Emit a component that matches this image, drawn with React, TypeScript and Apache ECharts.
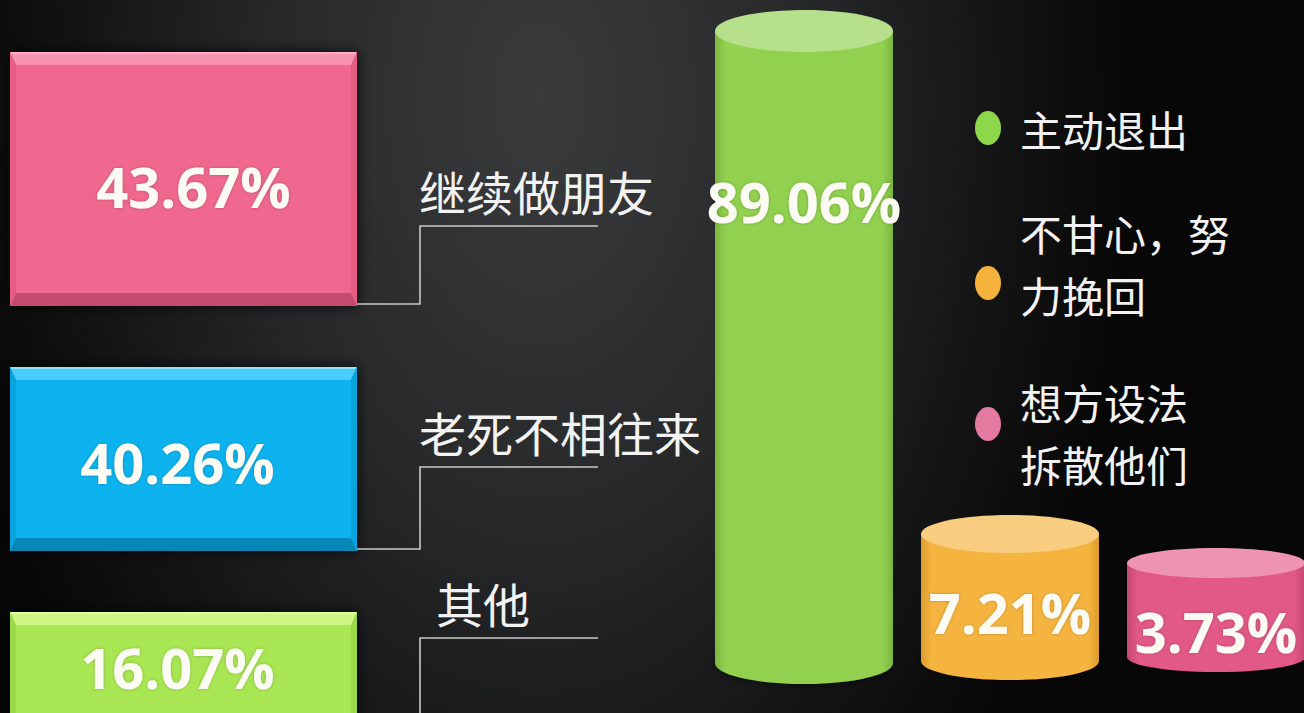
import React, { useEffect, useRef } from 'react';
import * as echarts from 'echarts';

// ---- data ----
const leftCategories = ['继续做朋友', '老死不相往来', '其他'];
const leftValues = [43.67, 40.26, 16.07];
const rightCategories = ['主动退出', '不甘心，努力挽回', '想方设法拆散他们'];
const rightValues = [89.06, 7.21, 3.73];

// ---- layout (hidden vertical axis runs 0..713, top to bottom) ----
const BOX_TOP = [52, 367, 612];
const BOX_BOTTOM = [306, 551, 800];
const BOX_VALUE_Y = [186, 462, 667];
const BOX_VALUE_DX = [10, -6, -6];
const BOX_LINE_Y = [226, 467, 638];
const BOX_LABEL_DX = [0, 0, 17];
const BOX_COLORS = [
  { face: '#f0688f', top: '#f893b1', bottom: '#c44a6e', side: '#e55c84', edge: '#fbb0c6' },
  { face: '#0bb3ef', top: '#48ccf8', bottom: '#0786b8', side: '#09a4de', edge: '#8fe2fb' },
  { face: '#a9e653', top: '#ccf582', bottom: '#86c03c', side: '#9cd94a', edge: '#e0fba8' },
];

const CYL_TOP = [31, 534, 563];
const CYL_BOTTOM = [663, 661, 657];
const CYL_RY = [21, 19, 15];
const CYL_VALUE_Y = [201, 612, 631];
const CYL_COLORS = [
  { body: '#92d04f', dark: '#7cb63f', top: '#b7e08c' },
  { body: '#f5b43f', dark: '#dc9c2c', top: '#f8cd80' },
  { body: '#e25987', dark: '#c84774', top: '#ee93b2' },
];

const LEGEND_LINE_Y = [[128], [232, 294], [401, 463]];
const LEGEND_DOT_Y = [128, 283, 424];
const LEGEND_WRAP = [0, 5, 4];
const LEGEND_DOT_COLORS = ['#8ed64a', '#f5b33e', '#e47a9f'];

const VALUE_FONT = '"Open Sans", "Noto Sans", sans-serif';
const CJK_FONT = '"Noto Sans CJK SC", sans-serif';

function wrapLines(s: string, n: number) {
  if (!n || s.length <= n) return [s];
  return [s.slice(0, n), s.slice(n)];
}

export default function App() {
  const ref = useRef<HTMLDivElement>(null);

  useEffect(() => {
    document.body.style.margin = '0';
    document.body.style.background = '#000';
    const chart = echarts.init(ref.current!, null, { renderer: 'svg' });

    const renderBox = (params: any, api: any) => {
      const i = params.dataIndex;
      const c = BOX_COLORS[i];
      const [x0, yTop] = api.coord([0, BOX_TOP[i]]);
      const [x1, yBot] = api.coord([1, BOX_BOTTOM[i]]);
      const w = x1 - x0;
      const h = yBot - yTop;
      const bt = 13;
      const bs = 6;
      const [, valY] = api.coord([0, BOX_VALUE_Y[i]]);
      const [, lineY] = api.coord([0, BOX_LINE_Y[i]]);
      const elbowX = x1 + 63;
      const lineEnd = x1 + 241;
      return {
        type: 'group',
        children: [
          {
            type: 'rect',
            shape: { x: x0, y: yTop, width: w, height: h },
            style: { fill: c.face, shadowBlur: 14, shadowColor: 'rgba(0,0,0,0.85)' },
          },
          {
            type: 'polygon',
            shape: { points: [[x0, yTop], [x1, yTop], [x1 - bs, yTop + bt], [x0 + bs, yTop + bt]] },
            style: { fill: c.top },
          },
          {
            type: 'polygon',
            shape: { points: [[x0, yBot], [x1, yBot], [x1 - bs, yBot - bt], [x0 + bs, yBot - bt]] },
            style: { fill: c.bottom },
          },
          {
            type: 'polygon',
            shape: { points: [[x0, yTop], [x0 + bs, yTop + bt], [x0 + bs, yBot - bt], [x0, yBot]] },
            style: { fill: c.side },
          },
          {
            type: 'polygon',
            shape: { points: [[x1, yTop], [x1 - bs, yTop + bt], [x1 - bs, yBot - bt], [x1, yBot]] },
            style: { fill: c.side },
          },
          {
            type: 'line',
            shape: { x1: x0 + 1, y1: yTop + 1, x2: x1 - 1, y2: yTop + 1 },
            style: { stroke: c.edge, lineWidth: 2 },
          },
          {
            type: 'text',
            x: (x0 + x1) / 2 + BOX_VALUE_DX[i],
            y: valY,
            style: {
              text: api.value(1).toFixed(2) + '%',
              fill: '#fbfbf3',
              fontSize: 56,
              fontWeight: 'bold',
              fontFamily: VALUE_FONT,
              align: 'center',
              verticalAlign: 'middle',
              textAlign: 'center',
              textVerticalAlign: 'middle',
              textShadowBlur: 3,
              textShadowColor: 'rgba(0,0,0,0.25)',
            },
          },
          {
            type: 'polyline',
            shape: { points: [[x1, yBot - 2], [elbowX, yBot - 2], [elbowX, lineY], [lineEnd, lineY]] },
            style: { stroke: '#c9c9c9', lineWidth: 1.6, fill: 'none' },
          },
          {
            type: 'text',
            x: elbowX + BOX_LABEL_DX[i] - 1,
            y: lineY - 36,
            style: {
              text: leftCategories[i],
              fill: '#f2f2f2',
              fontSize: 47,
              fontFamily: CJK_FONT,
              align: 'left',
              verticalAlign: 'middle',
              textAlign: 'left',
              textVerticalAlign: 'middle',
            },
          },
        ],
      };
    };

    const renderCylinder = (params: any, api: any) => {
      const i = params.dataIndex;
      const c = CYL_COLORS[i];
      const [cx, top] = api.coord([api.value(0), CYL_TOP[i]]);
      const [, bottom] = api.coord([api.value(0), CYL_BOTTOM[i]]);
      const rx = api.size([1, 0])[0] * 0.432;
      const ry = CYL_RY[i];
      const [, valY] = api.coord([api.value(0), CYL_VALUE_Y[i]]);
      const bodyFill = new echarts.graphic.LinearGradient(0, 0, 1, 0, [
        { offset: 0, color: c.dark },
        { offset: 0.06, color: c.body },
        { offset: 0.94, color: c.body },
        { offset: 1, color: c.dark },
      ]);
      return {
        type: 'group',
        children: [
          {
            type: 'ellipse',
            shape: { cx, cy: bottom, rx, ry },
            style: { fill: bodyFill, shadowBlur: 8, shadowColor: 'rgba(0,0,0,0.6)' },
          },
          {
            type: 'rect',
            shape: { x: cx - rx, y: top, width: rx * 2, height: bottom - top },
            style: { fill: bodyFill },
          },
          {
            type: 'ellipse',
            shape: { cx, cy: top, rx, ry },
            style: { fill: c.top },
          },
          {
            type: 'text',
            x: cx,
            y: valY,
            style: {
              text: api.value(1).toFixed(2) + '%',
              fill: '#fbfbf3',
              fontSize: 56,
              fontWeight: 'bold',
              fontFamily: VALUE_FONT,
              align: 'center',
              verticalAlign: 'middle',
              textAlign: 'center',
              textVerticalAlign: 'middle',
              textShadowBlur: 3,
              textShadowColor: 'rgba(0,0,0,0.25)',
            },
          },
        ],
      };
    };

    const legendElements: any[] = [];
    rightCategories.forEach((name, i) => {
      legendElements.push({
        type: 'ellipse',
        shape: { cx: 988, cy: LEGEND_DOT_Y[i], rx: 13, ry: 17 },
        style: { fill: LEGEND_DOT_COLORS[i] },
      });
      wrapLines(name, LEGEND_WRAP[i]).forEach((line, k) => {
        legendElements.push({
          type: 'text',
          x: 1020,
          y: LEGEND_LINE_Y[i][k],
          style: {
            text: line,
            fill: '#f2f2f2',
            fontSize: 42,
            fontFamily: CJK_FONT,
            align: 'left',
            verticalAlign: 'middle',
            textAlign: 'left',
            textVerticalAlign: 'middle',
          },
        });
      });
    });

    const option: any = {
      animation: false,
      backgroundColor: '#060606',
      graphic: {
        elements: [
          {
            type: 'rect',
            z: -100,
            silent: true,
            scaleY: 1.6,
            shape: { x: 0, y: 0, width: 1304, height: 446 },
            style: {
              fill: new echarts.graphic.RadialGradient(540, 62, 600, [
                { offset: 0, color: '#3a3b3c' },
                { offset: 0.45, color: '#27282a' },
                { offset: 0.8, color: '#121213' },
                { offset: 1, color: '#070707' },
              ], true),
            },
          },
          ...legendElements,
        ],
      },
      grid: [
        { left: 10, top: 0, width: 347, height: 713 },
        { left: 804, top: 0, width: 412, height: 713 },
      ],
      xAxis: [
        { type: 'value', gridIndex: 0, min: 0, max: 1, show: false },
        { type: 'category', gridIndex: 1, data: rightCategories, boundaryGap: false, show: false },
      ],
      yAxis: [
        { type: 'value', gridIndex: 0, min: 0, max: 713, inverse: true, show: false },
        { type: 'value', gridIndex: 1, min: 0, max: 713, inverse: true, show: false },
      ],
      series: [
        {
          type: 'custom',
          name: 'left',
          xAxisIndex: 0,
          yAxisIndex: 0,
          silent: true,
          clip: false,
          renderItem: renderBox,
          data: leftValues.map((v, i) => ({ name: leftCategories[i], value: [0, v] })),
        },
        {
          type: 'custom',
          name: 'right',
          xAxisIndex: 1,
          yAxisIndex: 1,
          silent: true,
          clip: false,
          renderItem: renderCylinder,
          data: rightValues.map((v, i) => ({ name: rightCategories[i], value: [i, v] })),
        },
      ],
    };

    chart.setOption(option);
    return () => chart.dispose();
  }, []);

  return <div ref={ref} style={{ width: 1304, height: 713 }} />;
}
